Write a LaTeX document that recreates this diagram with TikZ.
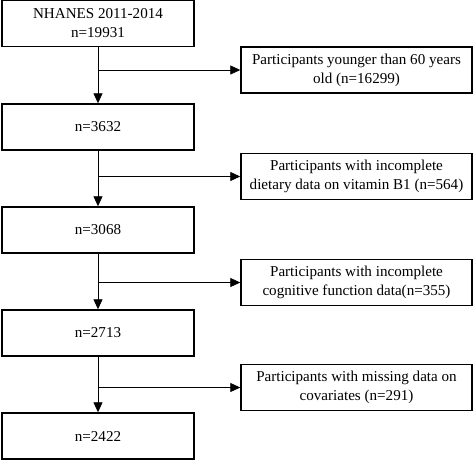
\documentclass[tikz,border=0pt]{standalone}
\usepackage{fontspec}
\setmainfont{Liberation Serif}
\usetikzlibrary{arrows.meta}
\tikzset{
  mainbox/.style={draw, line width=1.4pt, minimum width=192pt, minimum height=46pt, inner sep=0pt, align=center},
  exclbox/.style={draw, line width=1.4pt, minimum width=231pt, minimum height=46pt, inner sep=0pt, align=center},
  flow/.style={line width=0.8pt, -{Triangle[length=10pt,width=9pt]}}
}
\begin{document}
\begin{tikzpicture}[x=1pt, y=-1pt, font=\fontsize{15.1}{19}\selectfont]
\useasboundingbox (0,0) rectangle (474,461);
\node[mainbox] at (98, 23.5) (all) {NHANES 2011-2014\\n=19931};
\node[mainbox] at (98, 127) (aged) {n=3632};
\node[mainbox] at (98, 230) (diet) {n=3068};
\node[mainbox] at (98, 333) (cogn) {n=2713};
\node[mainbox] at (98, 436) (final) {n=2422};
\node[exclbox] at (356.5, 70) (young) {Participants younger than 60 years\\old (n=16299)};
\node[exclbox] at (356.5, 176.5) (nodiet) {Participants with incomplete\\dietary data on vitamin B1 (n=564)};
\node[exclbox] at (356.5, 282.5) (nocogn) {Participants with incomplete\\cognitive function data(n=355)};
\node[exclbox] at (356.5, 387.5) (nocov) {Participants with missing data on\\covariates (n=291)};
\coordinate (b1) at (98, 70);
\coordinate (b2) at (98, 176.5);
\coordinate (b3) at (98, 282.5);
\coordinate (b4) at (98, 387.5);
\draw[flow] (all) -- (aged);
\draw[flow] (aged) -- (diet);
\draw[flow] (diet) -- (cogn);
\draw[flow] (cogn) -- (final);
\draw[flow] (b1) -- (young);
\draw[flow] (b2) -- (nodiet);
\draw[flow] (b3) -- (nocogn);
\draw[flow] (b4) -- (nocov);
\end{tikzpicture}
\end{document}
